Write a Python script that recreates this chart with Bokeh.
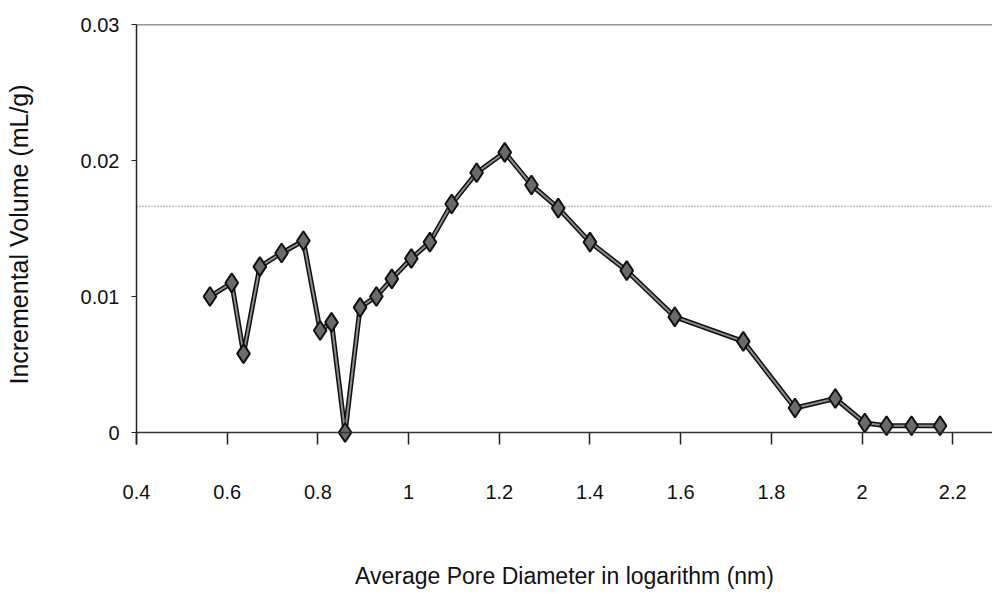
from bokeh.plotting import figure
from bokeh.models import Range1d, FixedTicker, Span
from bokeh.embed import file_html
from bokeh.resources import INLINE

# Data
pore_diameter_log = [0.562, 0.610, 0.636, 0.672, 0.720, 0.768, 0.805, 0.830, 0.860,
                     0.893, 0.929, 0.963, 1.006, 1.047, 1.095, 1.150, 1.212, 1.271,
                     1.330, 1.400, 1.481, 1.587, 1.738, 1.852, 1.941, 2.006, 2.054,
                     2.109, 2.172]
incremental_volume = [0.0100, 0.0110, 0.0058, 0.0122, 0.0132, 0.0141, 0.0075, 0.0081,
                      0.0000, 0.0092, 0.0100, 0.0113, 0.0128, 0.0140, 0.0168, 0.0191,
                      0.0206, 0.0182, 0.0165, 0.0140, 0.0119, 0.0085, 0.0067, 0.0018,
                      0.0025, 0.0007, 0.0005, 0.0005, 0.0005]
x_ticks = [0.4, 0.6, 0.8, 1.0, 1.2, 1.4, 1.6, 1.8, 2.0, 2.2]
x_tick_labels = ["0.4", "0.6", "0.8", "1", "1.2", "1.4", "1.6", "1.8", "2", "2.2"]
y_ticks = [0.0, 0.01, 0.02, 0.03]
y_tick_labels = ["0", "0.01", "0.02", "0.03"]

FONT = "Liberation Sans"

p = figure(width=992, height=594, output_backend="svg", toolbar_location=None,
           x_range=Range1d(0.4, 2.2876), y_range=Range1d(-0.00088, 0.03),
           min_border_left=136, min_border_right=0, min_border_top=24,
           min_border_bottom=150)
p.outline_line_color = None
p.xgrid.grid_line_color = None
p.ygrid.grid_line_color = None
p.background_fill_color = "white"
p.border_fill_color = "white"

# x axis (axis line drawn at y = 0 with a Span; ticks reach up to it)
xa = p.xaxis[0]
xa.ticker = FixedTicker(ticks=x_ticks)
xa.major_label_overrides = {t: l for t, l in zip(x_ticks, x_tick_labels)}
xa.minor_tick_line_color = None
xa.major_tick_in = 12
xa.major_tick_out = 0
xa.axis_line_color = None
xa.major_tick_line_color = "#222222"
xa.major_tick_line_width = 1.5
xa.major_label_standoff = 40
xa.major_label_text_font = FONT
xa.major_label_text_font_size = "20px"
xa.major_label_text_color = "#111111"
xa.axis_label = "Average Pore Diameter in logarithm (nm)"
xa.axis_label_text_font = FONT
xa.axis_label_text_font_size = "23px"
xa.axis_label_text_font_style = "normal"
xa.axis_label_text_color = "#111111"
xa.axis_label_standoff = 61

# y axis
ya = p.yaxis[0]
ya.ticker = FixedTicker(ticks=y_ticks)
ya.major_label_overrides = {t: l for t, l in zip(y_ticks, y_tick_labels)}
ya.minor_tick_line_color = None
ya.major_tick_in = 0
ya.major_tick_out = 5
ya.axis_line_color = "#222222"
ya.axis_line_width = 1.5
ya.major_tick_line_color = "#222222"
ya.major_label_standoff = 12
ya.major_label_text_font = FONT
ya.major_label_text_font_size = "20px"
ya.major_label_text_color = "#111111"
ya.axis_label = "Incremental Volume (mL/g)"
ya.axis_label_text_font = FONT
ya.axis_label_text_font_size = "25px"
ya.axis_label_text_font_style = "normal"
ya.axis_label_text_color = "#111111"
ya.axis_label_standoff = 45

# x-axis line at zero, top border line, and scanned dotted line
p.add_layout(Span(location=0.0, dimension="width", line_color="#333333", line_width=1.5))
p.add_layout(Span(location=0.03, dimension="width", line_color="#333333", line_width=1.5))
p.add_layout(Span(location=0.01664, dimension="width", line_color="#444444",
                  line_width=1, line_dash="1 2"))

# series
p.line(pore_diameter_log, incremental_volume, line_color="#111111", line_width=5)
p.line(pore_diameter_log, incremental_volume, line_color="#8a8a8a", line_width=2)
p.scatter(pore_diameter_log, incremental_volume, marker="diamond", size=19,
          fill_color="#6a6a6a", line_color="#111111", line_width=2)

open("out.html", "w").write(file_html(p, INLINE))
